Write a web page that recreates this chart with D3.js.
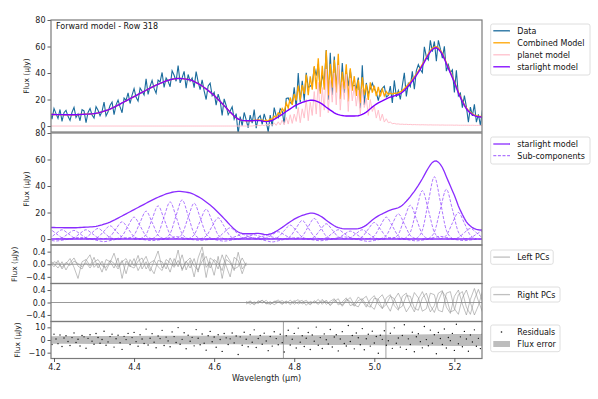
<!DOCTYPE html>
<html>
<head>
<meta charset="utf-8">
<script src="https://cdn.jsdelivr.net/npm/d3@7"></script>
<style>
body{margin:0;background:#fff;}
text{font-family:"DejaVu Sans",sans-serif;}
</style>
</head>
<body>
<svg id="chart" width="598" height="399"></svg>
<script>
// spectral grid (um)
var waveStart = 4.19,
    waveStep = 0.005;

// starlight model (uJy) on the grid
var starlight = [
  8.7,8.7,8.7,8.6,8.6,8.6,8.6,8.5,8.5,8.5,
  8.5,8.5,8.5,8.5,8.6,8.7,8.8,8.9,9.0,9.0,
  9.1,9.2,9.4,9.6,9.9,10.3,10.7,11.2,11.7,12.2,
  12.8,13.5,14.2,15,15.8,16.6,17.4,18.2,19,19.8,
  20.6,21.4,22.2,23,23.8,24.6,25.4,26.2,27,27.8,
  28.6,29.4,30.1,30.8,31.5,32.2,32.8,33.4,34,34.5,
  34.9,35.3,35.6,35.8,35.9,35.9,35.8,35.6,35.4,35.1,
  34.8,34.2,33.6,32.8,32,31.1,30.2,29.1,28,26.8,
  25.6,24.3,23,21.5,20,18.5,17,15.4,13.8,12.1,
  10.5,9,7.5,6.3,5.3,4.7,4.3,4.1,4,4,
  4,4,4.1,4.2,4.3,4.1,3.8,3.5,3.3,3.5,
  3.8,4.3,5,5.9,6.8,7.8,8.8,9.9,11,12,
  13,14,15,15.8,16.5,17.2,17.8,18.3,18.8,19.2,
  19.5,19.5,19.3,18.8,18.2,17.4,16.5,15.4,14.2,13.1,
  12,11,10,9.2,8.6,8.2,7.9,7.7,7.6,7.6,
  7.6,7.6,7.6,7.7,7.8,8.2,8.8,9.6,10.5,11.7,
  13,14.3,15.5,16.5,17.5,18.3,19,19.8,20.5,21.2,
  21.8,22.3,22.8,23.2,23.6,24.4,25.5,26.9,28.5,30.2,
  32,34,36,38.2,40.5,43,45.5,48.2,51,53.6,
  56,57.8,58.8,59,58,56.3,54,50.7,47,43.5,
  40,36.5,33,29,25,21.6,18.5,15.6,13,11.2,
  9.8,8.6,7.8,7.3,7,6.8,6.8
];

// planet model (uJy), zero below planetStart
var planetStart = 4.70;
var planet = [
  0.3,0.1,0.5,0.2,0.8,0.2,1.2,0.3,1.6,0.4,
  2.4,0.5,3.2,0.8,4.5,1,6.5,1.5,8.5,2,
  9,3.5,14,2.5,13,6,20,4,18,8,
  26,9,33,7,29,12,43,10,35,18,
  40,16,46,12,33,20,39,11,36,19,
  30,15,27,9,28,14,21,8,20,11,
  15,6,12,4,9,3,5.5,2.5,3,1.8,
  2,1.5,1.6,1.3,1.4,1.2,1.3,1.1,1.2,1,
  1.1,1,1,0.9,1,0.9,0.9,0.8,0.9,0.8,
  0.8,0.8,0.8,0.7,0.8,0.7,0.7,0.7,0.7,0.7,
  0.6,0.7,0.6,0.6,0.6,0.6,0.6,0.6,0.5,0.6,
  0.5,0.5,0.5,0.5,0.5
];

// residuals = data - combined model (uJy)
var residuals = [
  2.4,-3.5,4.6,0.8,-2.9,3.9,-5.1,1.6,3.4,-1.2,
  -4.3,1.9,5.6,-2.0,0.6,-4.7,3.6,2.5,-6.5,1.3,
  4.2,-0.9,-3.4,5.1,2.0,-2.6,0.4,6.9,-4.1,-1.5,
  2.7,4.6,-5.6,1.0,3.8,-2.2,-7.4,2.9,0.3,5.2,
  -3.6,1.9,6.0,-1.3,-4.9,4.1,0.8,-2.8,8.6,-3.9,
  1.4,5.0,-1.7,-6.1,3.2,1.1,7.6,-4.3,2.3,-0.7,
  -5.3,6.4,2.7,-2.0,9.8,-3.3,0.5,5.7,-6.9,3.8,
  -1.0,2.1,-4.6,8.2,1.4,-3.7,4.7,-2.6,-8.0,3.4,
  6.8,-1.4,2.4,-5.7,4.1,0.4,-9.0,5.1,1.7,-3.6,
  0.9,5.5,-2.3,3.1,-11.5,2.5,-4.1,6.1,0.6,-5.3,
  4.2,-1.8,8.0,-5.9,1.2,3.5,-3.3,5.4,-0.8,-8.4,
  2.8,-4.8,6.5,1.1,-3.8,4.5,-2.1,-9.5,3.3,7.7,
  -3.9,0.6,5.2,-6.3,9.4,-1.7,3.4,-5.1,1.4,5.9,
  -7.5,3.9,-0.9,10.2,-4.2,1.9,-6.7,4.8,0.2,-3.2,
  8.3,-5.5,2.4,4.2,-8.6,0.8,6.6,-2.8,-4.7,11.4,
  -1.2,3.5,-7.0,5.5,1.8,-3.8,9.0,-7.7,1.0,4.5,
  -4.8,7.0,-2.4,2.8,-10.4,3.8,0.5,7.3,-4.1,-0.6,
  5.3,-6.6,9.6,-2.6,1.6,-5.6,3.6,12,-7.4,0.9,
  -3.5,6.2,-9.3,2.6,4.9,-1.3,-6.2,10.6,0.3,-4.5,
  7.8,-2.5,4.2,-10.8,5.9,1.2,-3.6,8.7,-6.3,2.0,
  -0.5,5.2,-8.2,12.4,-3.0,2.5,-5.3,6.8,0.8,-8.9,
  4.0,-1.6,8.0,-4.9,1.3,-6.8,4.7
];

// flux error (1 sigma)
var errWave = [4.19,4.3,4.4,4.5,4.6,4.7,4.8,4.9,5.0,5.1,5.2,5.27];
var fluxErr = [3.0,3.1,3.2,3.3,3.4,3.5,3.7,3.9,4.1,4.4,4.7,4.8];

// wavelengths with masked pixels
var maskedWave = [4.773, 5.029];

// principal components, 0.01 um sampling
var pcStep = 0.01;
var leftPcStart = 4.19;
var leftPCs = [
  [0.05,-0.08,0.12,-0.15,0.02,0.18,-0.1,-0.45,0.08,0.15, -0.05,0.22,-0.12,0.1,-0.2,0.05,0.35,-0.08,0.12,-0.3,
   0.15,-0.05,0.28,-0.15,0.08,-0.22,0.1,0.42,-0.12,0.05, -0.25,0.18,-0.08,0.3,-0.18,0.12,-0.4,0.2,0.55,-0.1,
   0.08,-0.35,0.25,-0.45,0.15,0.05,-0.2,0.38,-0.15,0.02],
  [0.1,0.02,-0.12,0.08,-0.18,0.05,0.2,-0.06,-0.15,0.12, 0.3,-0.1,0.04,-0.25,0.15,0.08,-0.12,0.2,-0.45,0.1,
   -0.08,0.18,-0.2,0.05,0.25,-0.1,-0.3,0.12,0.08,-0.15, 0.2,-0.05,0.45,-0.2,0.1,-0.12,0.18,-0.25,0.35,-0.42,
   0.2,0.1,-0.15,0.3,-0.05,-0.4,0.22,0.12,-0.3,0.05],
  [-0.05,0.08,0.03,-0.1,0.06,-0.04,0.1,0.02,-0.08,0.05, -0.12,0.07,0.15,-0.05,-0.1,0.12,0.03,-0.15,0.08,0.18,
   -0.06,-0.12,0.1,0.2,-0.15,0.05,0.12,-0.08,-0.2,0.15, 0.05,-0.1,0.12,-0.15,0.08,0.2,-0.05,-0.18,0.1,0.25,
   -0.12,0.15,0.05,-0.2,0.3,0.1,-0.15,-0.08,0.2,-0.05]
];
var rightPcStart = 4.68;
var rightPCs = [
  [-0.05,0.03,-0.08,0.06,-0.02,0.07,-0.06,0.02,0.08,-0.04, 0.05,-0.07,0.03,0.09,-0.05,0.02,-0.08,0.06,-0.03,0.1,
   -0.06,0.04,0.12,-0.08,0.02,0.15,-0.1,-0.05,0.18,0.05, -0.15,0.1,0.22,-0.05,-0.2,0.15,0.25,-0.1,-0.25,0.2,
   0.3,-0.05,-0.3,0.1,0.35,0.05,-0.3,-0.1,0.3,0.38, -0.15,-0.35,0.2,0.4,-0.05,-0.4,0.1,0.45,0.05,-0.3],
  [0.04,-0.06,0.02,-0.03,0.08,-0.05,0.03,-0.07,0.01,0.06, -0.04,0.08,-0.06,0.02,0.07,-0.09,0.04,-0.02,0.1,-0.06,
   0.08,-0.1,0.03,0.12,-0.12,0.05,0.16,-0.08,-0.14,0.1, 0.2,-0.1,-0.22,0.12,0.25,-0.05,-0.28,0.1,0.3,0.02,
   -0.3,-0.1,0.32,0.15,-0.28,-0.2,0.3,0.25,-0.25,-0.3, 0.3,0.35,-0.2,-0.38,0.15,0.4,0.0,-0.4,-0.1,0.35],
  [-0.02,0.05,-0.04,0.02,0.06,-0.03,-0.05,0.04,0.02,-0.06, 0.03,-0.02,0.06,-0.05,0.01,0.07,-0.04,0.02,-0.06,0.05,
   0.02,-0.07,0.09,-0.02,-0.08,0.1,0.03,-0.12,0.06,0.12, -0.08,-0.15,0.14,0.1,-0.18,-0.06,0.2,0.12,-0.2,-0.12,
   0.22,0.2,-0.18,-0.25,0.15,0.3,-0.1,-0.32,0.05,0.35, 0.15,-0.3,-0.25,0.25,0.35,-0.15,-0.38,0.1,0.42,0.05]
];

// starlight sub-components: centres (um) and peak heights (uJy)
var compCenters = [4.19,4.22,4.25,4.28,4.31,4.34,4.37,4.40,4.43,4.46,4.49,4.52,4.55,4.58,4.61,4.64,4.67,4.70,4.73,
                   4.76,4.79,4.82,4.85,4.88,4.91,4.94,4.97,5.00,5.03,5.06,5.09,5.12,5.15,5.18,5.21,5.24,5.27];
var compAmps = [7,7,6.5,7,8,10,13,16.5,21,25,28,29.5,27,22.5,16,8.5,3.5,3.2,2.6,5.5,10.5,14,15.5,11.5,7,6,7,
                12.5,16.5,19,25.5,36.5,47,37.5,20,8,6];
var zeroCenters = [4.205,4.265,4.325,4.385,4.445,4.505,4.565,4.625,4.685,4.745,4.805,4.865,4.925,4.985,5.045,5.105,5.165,5.225];
var zeroAmps = [-1.5,1.2,-2,1,-1.2,1.8,-1,-1.6,1.4,-2.2,1,-1.3,1.6,-1.8,1.1,-1.4,2,-1.2];
var compSigma = 0.015,
    shapeOffsets = [-3,-2,-1,0,1,2,3],
    shapeFrac = [0.01,0.14,0.6,1,0.6,0.14,0.01];

var xTicks = [4.2,4.4,4.6,4.8,5.0,5.2];

var colData = "#1a6b9c",
    colCombined = "orange",
    colPlanet = "pink",
    colStar = "#7f00ff",
    colSub = "#9a55ff";

// -------------------------------------------------------------
var spec = starlight.map(function(s, i){
    var w = waveStart + i*waveStep;
    var j = Math.round((w - planetStart)/waveStep);
    var p = j < 0 ? 0 : planet[j];
    return {w:w, star:s, planet:p, model:s+p, resid:residuals[i], data:s+p+residuals[i]};
});

var svg = d3.select("#chart");
var x = d3.scaleLinear().domain([4.1925, 5.269]).range([51, 482]);

var panels = [
    {id:"p1", top:20, bottom:132, dom:[-4.5,80], ticks:[0,20,40,60,80], fmt:d3.format("d"), lab:true, labX:29},
    {id:"p2", top:133, bottom:245, dom:[-4.5,80], ticks:[0,20,40,60,80], fmt:d3.format("d"), lab:true, labX:29},
    {id:"p3", top:245, bottom:283.5, dom:[-0.61,0.61], ticks:[-0.4,0,0.4], fmt:d3.format(".1f"), lab:true, labX:17},
    {id:"p4", top:283.5, bottom:321.5, dom:[-0.61,0.61], ticks:[-0.4,0,0.4], fmt:d3.format(".1f"), lab:false},
    {id:"p5", top:321.5, bottom:358.5, dom:[-14.6,14.6], ticks:[-10,0,10], fmt:d3.format("d"), lab:true, labX:20}
];

var defs = svg.append("defs");
panels.forEach(function(p){
    p.y = d3.scaleLinear().domain(p.dom).range([p.bottom, p.top]);
    defs.append("clipPath").attr("id", "clip-"+p.id)
        .append("rect")
        .attr("x", 51).attr("y", p.top)
        .attr("width", 431).attr("height", p.bottom - p.top);
    p.g = svg.append("g").attr("clip-path", "url(#clip-"+p.id+")");
});

function specLine(y, acc){
    return d3.line().x(function(d){return x(d.w);}).y(function(d){return y(acc(d));});
}

// panel 1: forward model
var p1 = panels[0];
p1.g.append("path").datum(spec)
    .attr("d", specLine(p1.y, function(d){return d.data;}))
    .attr("fill","none").attr("stroke",colData).attr("stroke-width",1.1);
p1.g.append("path").datum(spec)
    .attr("d", specLine(p1.y, function(d){return d.model;}))
    .attr("fill","none").attr("stroke",colCombined).attr("stroke-width",1.3);
p1.g.append("path").datum(spec)
    .attr("d", specLine(p1.y, function(d){return d.planet;}))
    .attr("fill","none").attr("stroke",colPlanet).attr("stroke-width",1);
p1.g.append("path").datum(spec)
    .attr("d", specLine(p1.y, function(d){return d.star;}))
    .attr("fill","none").attr("stroke",colStar).attr("stroke-width",1.4);

p1.g.append("text")
    .text("Forward model - Row 318")
    .attr("x", 56).attr("y", 28.5)
    .style("font-size","8px").attr("fill","#111");

// panel 2: starlight + sub-components
var p2 = panels[1];
function compPoints(c, a){
    return shapeOffsets.map(function(o, k){ return [c + o*compSigma, a*shapeFrac[k]]; });
}
var compLine = d3.line()
    .x(function(d){return x(d[0]);})
    .y(function(d){return p2.y(d[1]);})
    .curve(d3.curveMonotoneX);
var comps = compCenters.map(function(c,i){return compPoints(c, compAmps[i]);})
    .concat(zeroCenters.map(function(c,i){return compPoints(c, zeroAmps[i]);}));
p2.g.selectAll(".comp").data(comps).enter()
    .append("path").attr("class","comp")
    .attr("d", compLine)
    .attr("fill","none").attr("stroke",colSub).attr("stroke-opacity",0.8)
    .attr("stroke-width",1).attr("stroke-dasharray","3,1.6");
p2.g.append("line")
    .attr("x1",51).attr("x2",482)
    .attr("y1",p2.y(0)).attr("y2",p2.y(0))
    .attr("stroke","#8a2cff").attr("stroke-width",1.5);
p2.g.append("path").datum(spec)
    .attr("d", specLine(p2.y, function(d){return d.star;}))
    .attr("fill","none").attr("stroke","#8a2cff").attr("stroke-width",1.3);

// panels 3/4: PCs
function drawPCs(p, start, pcs){
    p.g.append("line")
        .attr("x1",51).attr("x2",482)
        .attr("y1",p.y(0)).attr("y2",p.y(0))
        .attr("stroke","#999").attr("stroke-width",1);
    var pcLine = d3.line()
        .x(function(d,j){return x(start + j*pcStep);})
        .y(function(d){return p.y(d);});
    p.g.selectAll(".pc").data(pcs).enter()
        .append("path").attr("class","pc")
        .attr("d", pcLine)
        .attr("fill","none").attr("stroke","#8c8c8c")
        .attr("stroke-opacity",0.55).attr("stroke-width",1);
}
drawPCs(panels[2], leftPcStart, leftPCs);
drawPCs(panels[3], rightPcStart, rightPCs);

// panel 5: residuals
var p5 = panels[4];
var errPts = errWave.map(function(w,i){return {w:w, e:fluxErr[i]};});
p5.g.append("path").datum(errPts)
    .attr("d", d3.area()
        .x(function(d){return x(d.w);})
        .y0(function(d){return p5.y(-d.e);})
        .y1(function(d){return p5.y(d.e);})
        .curve(d3.curveMonotoneX))
    .attr("fill","#bdbdbd");
p5.g.selectAll(".mask").data(maskedWave).enter()
    .append("line").attr("class","mask")
    .attr("x1",function(d){return x(d);}).attr("x2",function(d){return x(d);})
    .attr("y1",p5.top).attr("y2",p5.bottom)
    .attr("stroke","#888").attr("stroke-width",0.8);
p5.g.selectAll(".res").data(spec).enter()
    .append("circle").attr("class","res")
    .attr("cx",function(d){return x(d.w);})
    .attr("cy",function(d){return p5.y(d.resid);})
    .attr("r",0.7).attr("fill","#111");

// axes + frames
panels.forEach(function(p){
    var ax = svg.append("g").attr("transform","translate(51,0)")
        .call(d3.axisLeft(p.y).tickValues(p.ticks).tickFormat(p.fmt).tickSize(3.5).tickPadding(2));
    ax.select(".domain").remove();
    ax.selectAll("line").attr("stroke","#333").attr("stroke-width",0.8);
    ax.selectAll("text").style("font-size","8px").attr("fill","#222").attr("font-family","DejaVu Sans");
    svg.append("rect")
        .attr("x",51).attr("y",p.top)
        .attr("width",431).attr("height",p.bottom-p.top)
        .attr("fill","none").attr("stroke","#7a7a7a").attr("stroke-width",1.2);
    if (p.lab){
        svg.append("text")
            .text("Flux (\u03bcJy)")
            .attr("transform","translate("+p.labX+","+((p.top+p.bottom)/2)+") rotate(-90)")
            .attr("text-anchor","middle")
            .style("font-size","7.5px").attr("fill","#222");
    }
});

var xa = svg.append("g").attr("transform","translate(0,"+p5.bottom+")")
    .call(d3.axisBottom(x).tickValues(xTicks).tickFormat(d3.format(".1f")).tickSize(3.5).tickPadding(2));
xa.select(".domain").remove();
xa.selectAll("line").attr("stroke","#333").attr("stroke-width",0.8);
xa.selectAll("text").style("font-size","8px").attr("fill","#222").attr("font-family","DejaVu Sans");

svg.append("text")
    .text("Wavelength (\u03bcm)")
    .attr("x",266.5).attr("y",381)
    .attr("text-anchor","middle")
    .style("font-size","8px").attr("fill","#222");

// legends
function legend(box, items){
    var g = svg.append("g");
    g.append("rect")
        .attr("x",490.7).attr("y",box.y)
        .attr("width",box.w).attr("height",box.h)
        .attr("rx",2).attr("fill","#fff").attr("fill-opacity",0.8)
        .attr("stroke","#d6d6d6").attr("stroke-width",0.8);
    items.forEach(function(it){
        if (it.type=="dot"){
            g.append("circle").attr("cx",501.5).attr("cy",it.y).attr("r",0.8).attr("fill","#111");
        } else if (it.type=="patch"){
            g.append("rect").attr("x",493.3).attr("y",it.y-3).attr("width",16.7).attr("height",6).attr("fill","#bdbdbd");
        } else {
            g.append("line")
                .attr("x1",493.3).attr("x2",510).attr("y1",it.y).attr("y2",it.y)
                .attr("stroke",it.color).attr("stroke-width",it.width||1.3)
                .attr("stroke-opacity",it.opacity||1)
                .attr("stroke-dasharray",it.dash||null);
        }
        g.append("text").text(it.label)
            .attr("x",517.3).attr("y",it.y+2.9)
            .style("font-size","8px").attr("fill","#111");
    });
}
legend({y:24, w:99.3, h:51}, [
    {label:"Data", y:30.8, color:colData},
    {label:"Combined Model", y:42.8, color:colCombined},
    {label:"planet model", y:54.8, color:colPlanet},
    {label:"starlight model", y:66.8, color:colStar}
]);
legend({y:137, w:99.3, h:27}, [
    {label:"starlight model", y:144, color:"#8a2cff"},
    {label:"Sub-components", y:155.7, color:colSub, dash:"3,1.6", opacity:0.8}
]);
legend({y:250, w:62.5, h:14.3}, [
    {label:"Left PCs", y:257.1, color:"#8c8c8c", opacity:0.55}
]);
legend({y:287, w:69.3, h:15}, [
    {label:"Right PCs", y:294.6, color:"#8c8c8c", opacity:0.55}
]);
legend({y:325, w:69.3, h:26.7}, [
    {label:"Residuals", y:332, type:"dot"},
    {label:"Flux error", y:344, type:"patch"}
]);
</script>
</body>
</html>
